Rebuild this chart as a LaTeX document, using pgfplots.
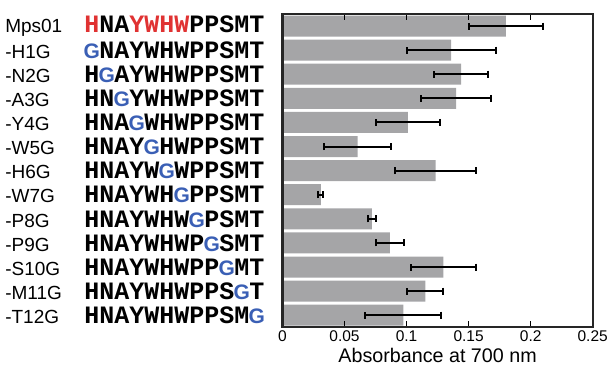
\documentclass[border=0pt]{standalone}
\usepackage{fontspec}
\setmainfont{Liberation Sans}
\newfontfamily\seqfont{Liberation Mono}
\usepackage{pgfplots}
\pgfplotsset{compat=1.18}
\definecolor{barg}{HTML}{A5A5A7}
\definecolor{sred}{HTML}{E03232}
\definecolor{sblue}{HTML}{3A5FB5}
\newcommand\nm[1]{\makebox[79pt][l]{\fontsize{19}{19}\selectfont #1}}
\newcommand\sq[1]{\makebox[184pt][l]{\fontsize{25}{25}\selectfont\seqfont\bfseries #1}}
\newcommand\G{\textcolor{sblue}{\makebox[15pt][c]{\fontsize{21}{21}\selectfont\rmfamily\bfseries G}}}
\newcommand\R[1]{\textcolor{sred}{#1}}
\pgfplotstableread{
y val err
1 0.180 0.030
2 0.136 0.036
3 0.144 0.0215
4 0.140 0.028
5 0.101 0.026
6 0.0606 0.027
7 0.1235 0.0325
8 0.031 0.002
9 0.072 0.003
10 0.0866 0.011
11 0.1296 0.026
12 0.1151 0.0145
13 0.0974 0.0306
}\datatab
\begin{document}
\begin{tikzpicture}
\begin{axis}[
  at={(0,0)}, anchor=south west, scale only axis,
  width=310.2pt, height=313.3pt,
  xmin=0, xmax=0.25, ymin=0.5, ymax=13.5, y dir=reverse,
  xbar, bar width=21pt, axis on top,
  axis line style={line width=2.2pt, draw=black!85},
  xtick={0,0.05,0.1,0.15,0.2,0.25},
  tick align=inside, xtick pos=both, xticklabel pos=lower,
  major tick length=6pt,
  x tick style={line width=1.6pt, black},
  ytick={1,...,13},
  y tick style={draw=none},
  yticklabel style={anchor=east, inner sep=0pt, xshift=-14pt},
  yticklabels={
    {\nm{Mps01}\sq{\R{H}NA\R{YWHW}PPSMT}},
    {\nm{-H1G}\sq{\G NAYWHWPPSMT}},
    {\nm{-N2G}\sq{H\G AYWHWPPSMT}},
    {\nm{-A3G}\sq{HN\G YWHWPPSMT}},
    {\nm{-Y4G}\sq{HNA\G WHWPPSMT}},
    {\nm{-W5G}\sq{HNAY\G HWPPSMT}},
    {\nm{-H6G}\sq{HNAYW\G WPPSMT}},
    {\nm{-W7G}\sq{HNAYWH\G PPSMT}},
    {\nm{-P8G}\sq{HNAYWHW\G PSMT}},
    {\nm{-P9G}\sq{HNAYWHWP\G SMT}},
    {\nm{-S10G}\sq{HNAYWHWPP\G MT}},
    {\nm{-M11G}\sq{HNAYWHWPPS\G T}},
    {\nm{-T12G}\sq{HNAYWHWPPSM\G}}
  },
  scaled x ticks=false,
  xticklabel style={font=\fontsize{15.5}{15.5}\selectfont,
    /pgf/number format/fixed, /pgf/number format/precision=2,
    /pgf/number format/assume math mode=true},
  xlabel={Absorbance at 700 nm},
  xlabel style={font=\fontsize{19.7}{20}\selectfont},
]
\addplot[fill=barg, draw=none,
  error bars/.cd, x dir=both, x explicit,
  error bar style={line width=2pt, black},
  error mark options={line width=2pt, mark size=3.5pt, black, rotate=90}]
  table[x=val, y=y, x error=err] {\datatab};
\end{axis}
\pgfresetboundingbox
\path (-282.5pt,-46.7pt) rectangle (328.5pt,327.3pt);
\end{tikzpicture}
\end{document}
